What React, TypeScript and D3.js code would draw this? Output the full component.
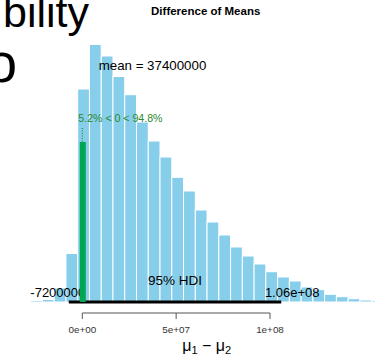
import React from "react";
import * as d3 from "d3";

// Histogram of posterior difference of means
const binStart = -27.51e6;
const binWidth = 6.265e6;
const binCounts = [15, 25, 140, 485, 2130, 2575, 2460, 2255, 2073, 1800, 1610, 1450, 1247, 1110, 920, 800, 670, 550, 460, 380, 303, 250, 210, 150, 123, 77, 53, 33, 20, 15];
const xTicks = [0, 5e7, 1e8];
const xTickLabels = ["0e+00", "5e+07", "1e+08"];
const meanValue = 37400000;
const hdiLow = -7200000;
const hdiHigh = 1.06e8;
const hdiLabels = ["-7200000", "1.06e+08"];
const compVal = 0;
const compBarHeight = 1600;
const pctBelow = "5.2%";
const pctAbove = "94.8%";
const title = "Difference of Means";
const bgTextLines = ["bility", "o"];

const FONT = "'Liberation Sans', Arial, Helvetica, sans-serif";

function measure(text: string, size: number, weight = "normal"): number {
  if (typeof document === "undefined") return text.length * size * 0.55;
  const c = document.createElement("canvas");
  const ctx = c.getContext("2d");
  if (!ctx) return text.length * size * 0.55;
  ctx.font = `${weight} ${size}px 'Liberation Sans', Arial, sans-serif`;
  return ctx.measureText(text).width;
}

export default function App() {
  const W = 375, H = 362;
  const x = d3.scaleLinear().domain([0, 1e8]).range([82.3, 270]);
  const y = d3.scaleLinear().domain([0, 2600]).range([302, 42]);

  const bins = binCounts.map((c, i) => ({
    x0: binStart + i * binWidth,
    x1: binStart + (i + 1) * binWidth,
    c,
  }));

  const hdiFont = 13;
  const adj = 0.7;
  const wLow = measure(hdiLabels[0], hdiFont);
  const wHigh = measure(hdiLabels[1], hdiFont);

  return (
    <div style={{ position: "absolute", left: 0, top: 0 }}>
      <svg width={W} height={H} style={{ display: "block", fontFamily: FONT }}>
        <rect x={0} y={0} width={W} height={H} fill="#fff" />
        {/* background slide text, clipped */}
        <text x={89} y={27} fontSize={43} textAnchor="end" fill="#000">{bgTextLines[0]}</text>
        <text x={17} y={82} fontSize={55} textAnchor="end" fill="#000">{bgTextLines[1]}</text>

        <text x={205.7} y={15} fontSize={11.5} fontWeight="bold" textAnchor="middle" fill="#000">{title}</text>

        {bins.map((b, i) => (
          <rect
            key={i}
            x={x(b.x0)}
            y={y(b.c)}
            width={x(b.x1) - x(b.x0)}
            height={y(0) - y(b.c)}
            fill="#87CEEB"
            stroke="#fff"
            strokeWidth={1}
          />
        ))}

        <text x={x(meanValue)} y={70} fontSize={13.3} textAnchor="middle" fill="#000">{`mean = ${meanValue}`}</text>

        {/* comparison value */}
        <line x1={x(compVal)} x2={x(compVal)} y1={y(1740)} y2={y(compBarHeight)} stroke="#1f7a1f" strokeWidth={1} strokeDasharray="1,1.5" />
        <text x={x(compVal) - 4} y={121.7} fontSize={10.6} textAnchor="start" fill="#2b8a2b">{`${pctBelow} < ${compVal} < ${pctAbove}`}</text>

        {/* HDI */}
        <line x1={x(hdiLow)} x2={x(hdiHigh)} y1={302} y2={302} stroke="#000" strokeWidth={3} />
        <text x={(x(hdiLow) + x(hdiHigh)) / 2} y={285} fontSize={13.5} textAnchor="middle" fill="#000">95% HDI</text>
        <text x={x(hdiLow) - adj * wLow} y={296.7} fontSize={hdiFont} textAnchor="start" fill="#000">{hdiLabels[0]}</text>
        <text x={x(hdiHigh) - (1 - adj) * wHigh} y={296.7} fontSize={hdiFont} textAnchor="start" fill="#000">{hdiLabels[1]}</text>

        <rect x={x(compVal) - 2.5} y={y(compBarHeight)} width={6} height={y(0) - y(compBarHeight)} fill="#00A651" />

        {/* axis */}
        <line x1={x(xTicks[0])} x2={x(xTicks[xTicks.length - 1])} y1={313} y2={313} stroke="#555" strokeWidth={1} />
        {xTicks.map((t, i) => (
          <g key={i}>
            <line x1={x(t)} x2={x(t)} y1={313} y2={319} stroke="#555" strokeWidth={1} />
            <text x={x(t)} y={333} fontSize={9.9} textAnchor="middle" fill="#333">{xTickLabels[i]}</text>
          </g>
        ))}

        <text x={206.7} y={351} fontSize={16} textAnchor="middle" fill="#000">
          μ<tspan fontSize={11} dy={3}>1</tspan>
          <tspan dy={-3}>{" \u2212 "}</tspan>μ<tspan fontSize={11} dy={3}>2</tspan>
        </text>
      </svg>
    </div>
  );
}
